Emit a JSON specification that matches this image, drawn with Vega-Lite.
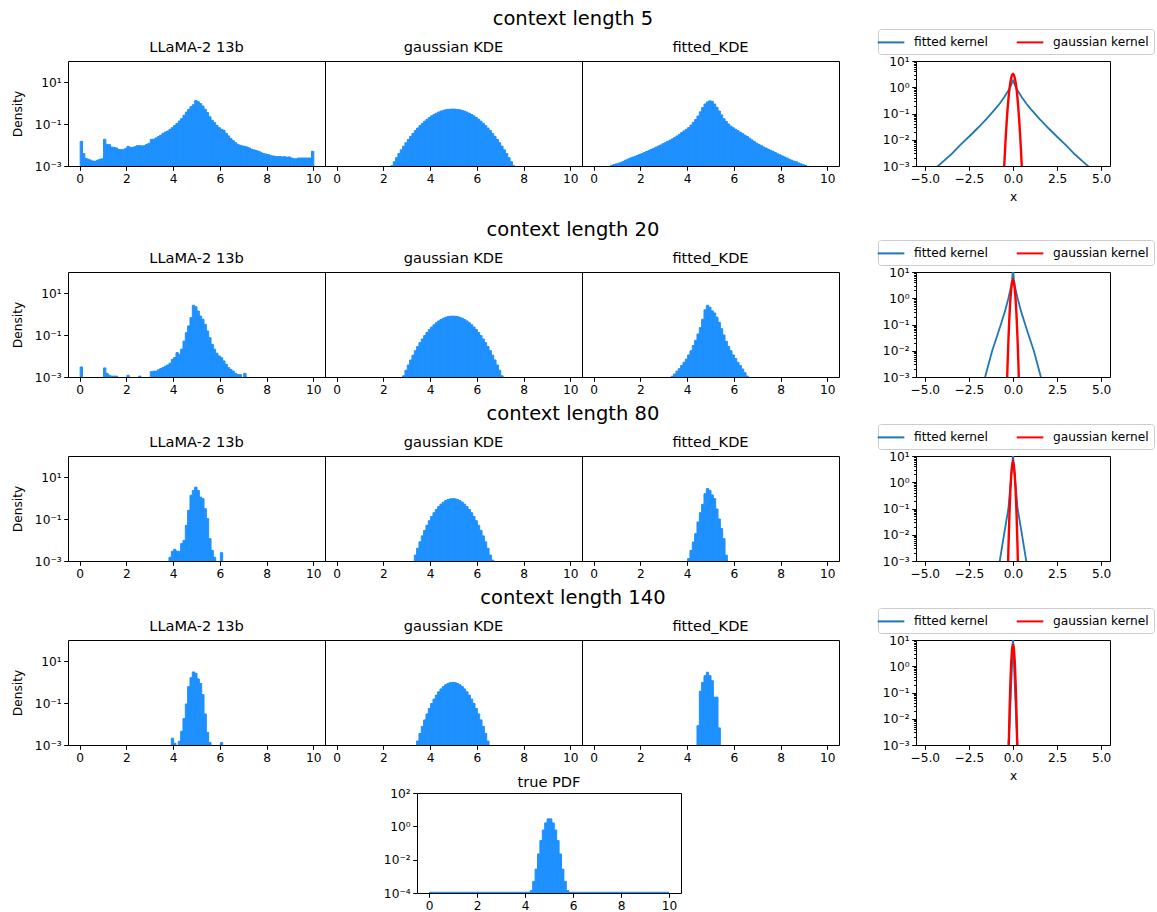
{
"$schema":"https://vega.github.io/schema/vega-lite/v6.json",
"padding":{"left":10,"top":8,"right":0,"bottom":0},
"datasets":{
"r1a":[{"x":0,"d":0.015},{"x":0.1,"d":0.0039},{"x":0.2,"d":0.0023},{"x":0.3,"d":0.0021},{"x":0.4,"d":0.0019},{"x":0.5,"d":0.0017},{"x":0.6,"d":0.0017},{"x":0.7,"d":0.0019},{"x":0.8,"d":0.0021},{"x":0.9,"d":0.0022},{"x":1.0,"d":0.0186},{"x":1.1,"d":0.0107},{"x":1.2,"d":0.0104},{"x":1.3,"d":0.008},{"x":1.4,"d":0.0077},{"x":1.5,"d":0.0072},{"x":1.6,"d":0.0062},{"x":1.7,"d":0.006},{"x":1.8,"d":0.006},{"x":1.9,"d":0.0067},{"x":2.0,"d":0.0086},{"x":2.1,"d":0.0077},{"x":2.2,"d":0.0077},{"x":2.3,"d":0.0083},{"x":2.4,"d":0.0093},{"x":2.5,"d":0.0093},{"x":2.6,"d":0.009},{"x":2.7,"d":0.0093},{"x":2.8,"d":0.0107},{"x":2.9,"d":0.012},{"x":3.0,"d":0.0186},{"x":3.1,"d":0.0186},{"x":3.2,"d":0.0216},{"x":3.3,"d":0.025},{"x":3.4,"d":0.029},{"x":3.5,"d":0.036},{"x":3.6,"d":0.0415},{"x":3.7,"d":0.046},{"x":3.8,"d":0.056},{"x":3.9,"d":0.067},{"x":4.0,"d":0.086},{"x":4.1,"d":0.107},{"x":4.2,"d":0.139},{"x":4.3,"d":0.18},{"x":4.4,"d":0.26},{"x":4.5,"d":0.37},{"x":4.6,"d":0.5},{"x":4.7,"d":0.67},{"x":4.8,"d":0.83},{"x":4.9,"d":1.3},{"x":5.0,"d":1.15},{"x":5.1,"d":0.93},{"x":5.2,"d":0.72},{"x":5.3,"d":0.5},{"x":5.4,"d":0.35},{"x":5.5,"d":0.22},{"x":5.6,"d":0.15},{"x":5.7,"d":0.116},{"x":5.8,"d":0.086},{"x":5.9,"d":0.067},{"x":6.0,"d":0.056},{"x":6.1,"d":0.05},{"x":6.2,"d":0.036},{"x":6.3,"d":0.027},{"x":6.4,"d":0.02},{"x":6.5,"d":0.016},{"x":6.6,"d":0.0129},{"x":6.7,"d":0.0107},{"x":6.8,"d":0.0097},{"x":6.9,"d":0.009},{"x":7.0,"d":0.0086},{"x":7.1,"d":0.008},{"x":7.2,"d":0.0072},{"x":7.3,"d":0.0062},{"x":7.4,"d":0.0058},{"x":7.5,"d":0.0054},{"x":7.6,"d":0.005},{"x":7.7,"d":0.0043},{"x":7.8,"d":0.0039},{"x":7.9,"d":0.0037},{"x":8.0,"d":0.0035},{"x":8.1,"d":0.0032},{"x":8.2,"d":0.003},{"x":8.3,"d":0.0029},{"x":8.4,"d":0.0028},{"x":8.5,"d":0.0028},{"x":8.6,"d":0.0027},{"x":8.7,"d":0.0028},{"x":8.8,"d":0.0026},{"x":8.9,"d":0.0027},{"x":9.0,"d":0.0024},{"x":9.1,"d":0.0022},{"x":9.2,"d":0.0022},{"x":9.3,"d":0.0024},{"x":9.4,"d":0.0024},{"x":9.5,"d":0.0024},{"x":9.6,"d":0.0024},{"x":9.7,"d":0.0024},{"x":9.8,"d":0.0024},{"x":9.9,"d":0.005}],
"r1b":[{"x":2.3,"d":0.00102},{"x":2.4,"d":0.0016},{"x":2.5,"d":0.0025},{"x":2.6,"d":0.0039},{"x":2.7,"d":0.0059},{"x":2.8,"d":0.0088},{"x":2.9,"d":0.0128},{"x":3.0,"d":0.0183},{"x":3.1,"d":0.0258},{"x":3.2,"d":0.0357},{"x":3.3,"d":0.0484},{"x":3.4,"d":0.0643},{"x":3.5,"d":0.0843},{"x":3.6,"d":0.108},{"x":3.7,"d":0.136},{"x":3.8,"d":0.168},{"x":3.9,"d":0.204},{"x":4.0,"d":0.243},{"x":4.1,"d":0.284},{"x":4.2,"d":0.326},{"x":4.3,"d":0.37},{"x":4.4,"d":0.41},{"x":4.5,"d":0.445},{"x":4.6,"d":0.475},{"x":4.7,"d":0.496},{"x":4.8,"d":0.508},{"x":4.9,"d":0.513},{"x":5.0,"d":0.508},{"x":5.1,"d":0.496},{"x":5.2,"d":0.475},{"x":5.3,"d":0.445},{"x":5.4,"d":0.41},{"x":5.5,"d":0.37},{"x":5.6,"d":0.326},{"x":5.7,"d":0.284},{"x":5.8,"d":0.243},{"x":5.9,"d":0.204},{"x":6.0,"d":0.168},{"x":6.1,"d":0.136},{"x":6.2,"d":0.108},{"x":6.3,"d":0.0843},{"x":6.4,"d":0.0643},{"x":6.5,"d":0.0484},{"x":6.6,"d":0.0357},{"x":6.7,"d":0.0258},{"x":6.8,"d":0.0183},{"x":6.9,"d":0.0128},{"x":7.0,"d":0.0088},{"x":7.1,"d":0.0059},{"x":7.2,"d":0.0039},{"x":7.3,"d":0.0025},{"x":7.4,"d":0.0016},{"x":7.5,"d":0.00102}],
"r1c":[{"x":0.7,"d":0.00107},{"x":0.8,"d":0.00117},{"x":0.9,"d":0.00126},{"x":1.0,"d":0.00135},{"x":1.1,"d":0.00148},{"x":1.2,"d":0.00166},{"x":1.3,"d":0.0019},{"x":1.4,"d":0.00214},{"x":1.5,"d":0.0024},{"x":1.6,"d":0.00263},{"x":1.7,"d":0.00288},{"x":1.8,"d":0.00316},{"x":1.9,"d":0.00355},{"x":2.0,"d":0.00389},{"x":2.1,"d":0.00437},{"x":2.2,"d":0.0049},{"x":2.3,"d":0.0055},{"x":2.4,"d":0.00617},{"x":2.5,"d":0.0069},{"x":2.6,"d":0.0079},{"x":2.7,"d":0.0089},{"x":2.8,"d":0.01},{"x":2.9,"d":0.0115},{"x":3.0,"d":0.0129},{"x":3.1,"d":0.0148},{"x":3.2,"d":0.017},{"x":3.3,"d":0.0195},{"x":3.4,"d":0.0229},{"x":3.5,"d":0.0269},{"x":3.6,"d":0.0324},{"x":3.7,"d":0.0389},{"x":3.8,"d":0.0468},{"x":3.9,"d":0.0562},{"x":4.0,"d":0.0676},{"x":4.1,"d":0.089},{"x":4.2,"d":0.12},{"x":4.3,"d":0.166},{"x":4.4,"d":0.24},{"x":4.5,"d":0.38},{"x":4.6,"d":0.6},{"x":4.7,"d":0.89},{"x":4.8,"d":1.12},{"x":4.9,"d":1.26},{"x":5.0,"d":1.2},{"x":5.1,"d":0.89},{"x":5.2,"d":0.63},{"x":5.3,"d":0.417},{"x":5.4,"d":0.27},{"x":5.5,"d":0.178},{"x":5.6,"d":0.132},{"x":5.7,"d":0.1},{"x":5.8,"d":0.079},{"x":5.9,"d":0.066},{"x":6.0,"d":0.0562},{"x":6.1,"d":0.0479},{"x":6.2,"d":0.0407},{"x":6.3,"d":0.0347},{"x":6.4,"d":0.0295},{"x":6.5,"d":0.0251},{"x":6.6,"d":0.0209},{"x":6.7,"d":0.0174},{"x":6.8,"d":0.0145},{"x":6.9,"d":0.0123},{"x":7.0,"d":0.0107},{"x":7.1,"d":0.0093},{"x":7.2,"d":0.0081},{"x":7.3,"d":0.0072},{"x":7.4,"d":0.0063},{"x":7.5,"d":0.0056},{"x":7.6,"d":0.005},{"x":7.7,"d":0.0044},{"x":7.8,"d":0.0038},{"x":7.9,"d":0.0034},{"x":8.0,"d":0.003},{"x":8.1,"d":0.0027},{"x":8.2,"d":0.0024},{"x":8.3,"d":0.0021},{"x":8.4,"d":0.0019},{"x":8.5,"d":0.0017},{"x":8.6,"d":0.0016},{"x":8.7,"d":0.0014},{"x":8.8,"d":0.00126},{"x":8.9,"d":0.00115},{"x":9.0,"d":0.00105}],
"r2a":[{"x":0,"d":0.003},{"x":1.0,"d":0.0027},{"x":1.1,"d":0.0015},{"x":1.2,"d":0.0012},{"x":1.3,"d":0.0011},{"x":1.4,"d":0.0011},{"x":1.5,"d":0.0011},{"x":2.0,"d":0.0012},{"x":2.5,"d":0.0011},{"x":3.0,"d":0.0018},{"x":3.1,"d":0.0019},{"x":3.2,"d":0.0019},{"x":3.3,"d":0.0022},{"x":3.4,"d":0.0025},{"x":3.5,"d":0.0028},{"x":3.6,"d":0.0033},{"x":3.7,"d":0.0037},{"x":3.8,"d":0.0045},{"x":3.9,"d":0.0069},{"x":4.0,"d":0.0085},{"x":4.1,"d":0.0145},{"x":4.2,"d":0.012},{"x":4.3,"d":0.021},{"x":4.4,"d":0.051},{"x":4.5,"d":0.128},{"x":4.6,"d":0.27},{"x":4.7,"d":0.67},{"x":4.8,"d":2.6},{"x":4.9,"d":2.2},{"x":5.0,"d":1.38},{"x":5.1,"d":0.8},{"x":5.2,"d":0.56},{"x":5.3,"d":0.32},{"x":5.4,"d":0.155},{"x":5.5,"d":0.074},{"x":5.6,"d":0.036},{"x":5.7,"d":0.021},{"x":5.8,"d":0.0135},{"x":5.9,"d":0.01},{"x":6.0,"d":0.0083},{"x":6.1,"d":0.0058},{"x":6.2,"d":0.004},{"x":6.3,"d":0.0028},{"x":6.4,"d":0.0023},{"x":6.5,"d":0.0019},{"x":6.6,"d":0.0015},{"x":6.7,"d":0.0013},{"x":6.8,"d":0.0013},{"x":7.0,"d":0.0015}],
"r2b":[{"x":2.8,"d":0.00114},{"x":2.9,"d":0.00209},{"x":3.0,"d":0.00373},{"x":3.1,"d":0.00645},{"x":3.2,"d":0.0109},{"x":3.3,"d":0.0177},{"x":3.4,"d":0.0281},{"x":3.5,"d":0.0433},{"x":3.6,"d":0.0645},{"x":3.7,"d":0.0935},{"x":3.8,"d":0.132},{"x":3.9,"d":0.18},{"x":4.0,"d":0.239},{"x":4.1,"d":0.307},{"x":4.2,"d":0.384},{"x":4.3,"d":0.466},{"x":4.4,"d":0.548},{"x":4.5,"d":0.627},{"x":4.6,"d":0.695},{"x":4.7,"d":0.75},{"x":4.8,"d":0.78},{"x":4.9,"d":0.79},{"x":5.0,"d":0.78},{"x":5.1,"d":0.75},{"x":5.2,"d":0.695},{"x":5.3,"d":0.627},{"x":5.4,"d":0.548},{"x":5.5,"d":0.466},{"x":5.6,"d":0.384},{"x":5.7,"d":0.307},{"x":5.8,"d":0.239},{"x":5.9,"d":0.18},{"x":6.0,"d":0.132},{"x":6.1,"d":0.0935},{"x":6.2,"d":0.0645},{"x":6.3,"d":0.0433},{"x":6.4,"d":0.0281},{"x":6.5,"d":0.0177},{"x":6.6,"d":0.0109},{"x":6.7,"d":0.00645},{"x":6.8,"d":0.00373},{"x":6.9,"d":0.00209},{"x":7.0,"d":0.00114}],
"r2c":[{"x":3.3,"d":0.0011},{"x":3.4,"d":0.0014},{"x":3.5,"d":0.0019},{"x":3.6,"d":0.0025},{"x":3.7,"d":0.0035},{"x":3.8,"d":0.005},{"x":3.9,"d":0.0071},{"x":4.0,"d":0.0112},{"x":4.1,"d":0.0178},{"x":4.2,"d":0.0316},{"x":4.3,"d":0.056},{"x":4.4,"d":0.112},{"x":4.5,"d":0.224},{"x":4.6,"d":0.56},{"x":4.7,"d":1.58},{"x":4.8,"d":2.6},{"x":4.9,"d":2.1},{"x":5.0,"d":1.41},{"x":5.1,"d":1.12},{"x":5.2,"d":0.71},{"x":5.3,"d":0.4},{"x":5.4,"d":0.2},{"x":5.5,"d":0.1},{"x":5.6,"d":0.05},{"x":5.7,"d":0.028},{"x":5.8,"d":0.0178},{"x":5.9,"d":0.0112},{"x":6.0,"d":0.0076},{"x":6.1,"d":0.005},{"x":6.2,"d":0.0035},{"x":6.3,"d":0.0024},{"x":6.4,"d":0.0016},{"x":6.5,"d":0.0011}],
"r3a":[{"x":3.8,"d":0.0015},{"x":3.9,"d":0.0029},{"x":4.0,"d":0.0036},{"x":4.1,"d":0.0029},{"x":4.2,"d":0.0029},{"x":4.3,"d":0.0068},{"x":4.4,"d":0.0096},{"x":4.5,"d":0.05},{"x":4.6,"d":0.26},{"x":4.7,"d":1.35},{"x":4.8,"d":2.3},{"x":4.9,"d":3.3},{"x":5.0,"d":2.3},{"x":5.1,"d":1.1},{"x":5.2,"d":0.93},{"x":5.3,"d":0.31},{"x":5.4,"d":0.104},{"x":5.5,"d":0.0115},{"x":5.6,"d":0.0032},{"x":5.7,"d":0.0015},{"x":6.0,"d":0.0025}],
"r3b":[{"x":3.3,"d":0.00191},{"x":3.4,"d":0.00405},{"x":3.5,"d":0.00816},{"x":3.6,"d":0.0157},{"x":3.7,"d":0.0287},{"x":3.8,"d":0.05},{"x":3.9,"d":0.0832},{"x":4.0,"d":0.132},{"x":4.1,"d":0.199},{"x":4.2,"d":0.285},{"x":4.3,"d":0.391},{"x":4.4,"d":0.51},{"x":4.5,"d":0.634},{"x":4.6,"d":0.751},{"x":4.7,"d":0.847},{"x":4.8,"d":0.91},{"x":4.9,"d":0.93},{"x":5.0,"d":0.91},{"x":5.1,"d":0.847},{"x":5.2,"d":0.751},{"x":5.3,"d":0.634},{"x":5.4,"d":0.51},{"x":5.5,"d":0.391},{"x":5.6,"d":0.285},{"x":5.7,"d":0.199},{"x":5.8,"d":0.132},{"x":5.9,"d":0.0832},{"x":6.0,"d":0.05},{"x":6.1,"d":0.0287},{"x":6.2,"d":0.0157},{"x":6.3,"d":0.00816},{"x":6.4,"d":0.00405},{"x":6.5,"d":0.00191},{"x":6.6,"d":0.0011}],
"r3c":[{"x":4.0,"d":0.0013},{"x":4.1,"d":0.0032},{"x":4.2,"d":0.008},{"x":4.3,"d":0.02},{"x":4.4,"d":0.072},{"x":4.5,"d":0.2},{"x":4.6,"d":0.5},{"x":4.7,"d":1.6},{"x":4.8,"d":2.8},{"x":4.9,"d":2.3},{"x":5.0,"d":1.4},{"x":5.1,"d":0.93},{"x":5.2,"d":0.3},{"x":5.3,"d":0.1},{"x":5.4,"d":0.035},{"x":5.5,"d":0.0115},{"x":5.6,"d":0.0019}],
"r4a":[{"x":3.9,"d":0.0021},{"x":4.0,"d":0.0012},{"x":4.2,"d":0.0015},{"x":4.3,"d":0.0045},{"x":4.4,"d":0.018},{"x":4.5,"d":0.09},{"x":4.6,"d":0.6},{"x":4.7,"d":1.6},{"x":4.8,"d":3.0},{"x":4.9,"d":2.6},{"x":5.0,"d":1.4},{"x":5.1,"d":0.85},{"x":5.2,"d":0.25},{"x":5.3,"d":0.03},{"x":5.4,"d":0.004},{"x":5.5,"d":0.0013},{"x":6.0,"d":0.0013}],
"r4b":[{"x":3.4,"d":0.00155},{"x":3.5,"d":0.00355},{"x":3.6,"d":0.00766},{"x":3.7,"d":0.0156},{"x":3.8,"d":0.0302},{"x":3.9,"d":0.055},{"x":4.0,"d":0.0946},{"x":4.1,"d":0.153},{"x":4.2,"d":0.236},{"x":4.3,"d":0.342},{"x":4.4,"d":0.468},{"x":4.5,"d":0.605},{"x":4.6,"d":0.739},{"x":4.7,"d":0.852},{"x":4.8,"d":0.928},{"x":4.9,"d":0.955},{"x":5.0,"d":0.928},{"x":5.1,"d":0.852},{"x":5.2,"d":0.739},{"x":5.3,"d":0.605},{"x":5.4,"d":0.468},{"x":5.5,"d":0.342},{"x":5.6,"d":0.236},{"x":5.7,"d":0.153},{"x":5.8,"d":0.0946},{"x":5.9,"d":0.055},{"x":6.0,"d":0.0302},{"x":6.1,"d":0.0156},{"x":6.2,"d":0.00766},{"x":6.3,"d":0.00355},{"x":6.4,"d":0.00155}],
"r4c":[{"x":4.4,"d":0.0083},{"x":4.5,"d":0.36},{"x":4.6,"d":0.96},{"x":4.7,"d":2.0},{"x":4.8,"d":2.9},{"x":4.9,"d":2.0},{"x":5.0,"d":1.15},{"x":5.1,"d":0.19},{"x":5.2,"d":0.19},{"x":5.3,"d":0.0065}],
"tp":[{"x":4.2,"d":0.00014},{"x":4.3,"d":0.0005},{"x":4.4,"d":0.0027},{"x":4.5,"d":0.022},{"x":4.6,"d":0.14},{"x":4.7,"d":0.6},{"x":4.8,"d":1.6},{"x":4.9,"d":2.8},{"x":5.0,"d":2.8},{"x":5.1,"d":1.6},{"x":5.2,"d":0.6},{"x":5.3,"d":0.14},{"x":5.4,"d":0.022},{"x":5.5,"d":0.0027},{"x":5.6,"d":0.0005},{"x":5.7,"d":0.00014}],
"tb":[{"x":0,"x2":10,"d":0.000106}],
"k1":[{"s":"fitted kernel","x":-5,"d":0.0004},{"s":"fitted kernel","x":-4.5,"d":0.00071},{"s":"fitted kernel","x":-4,"d":0.0014},{"s":"fitted kernel","x":-3.5,"d":0.0028},{"s":"fitted kernel","x":-3,"d":0.0063},{"s":"fitted kernel","x":-2.5,"d":0.013},{"s":"fitted kernel","x":-2,"d":0.028},{"s":"fitted kernel","x":-1.5,"d":0.063},{"s":"fitted kernel","x":-1,"d":0.15},{"s":"fitted kernel","x":-0.75,"d":0.24},{"s":"fitted kernel","x":-0.5,"d":0.42},{"s":"fitted kernel","x":-0.35,"d":0.6},{"s":"fitted kernel","x":-0.2,"d":0.87},{"s":"fitted kernel","x":-0.1,"d":1.25},{"s":"fitted kernel","x":0,"d":1.8},{"s":"fitted kernel","x":0.1,"d":1.25},{"s":"fitted kernel","x":0.2,"d":0.87},{"s":"fitted kernel","x":0.35,"d":0.6},{"s":"fitted kernel","x":0.5,"d":0.42},{"s":"fitted kernel","x":0.75,"d":0.24},{"s":"fitted kernel","x":1,"d":0.15},{"s":"fitted kernel","x":1.5,"d":0.063},{"s":"fitted kernel","x":2,"d":0.028},{"s":"fitted kernel","x":2.5,"d":0.013},{"s":"fitted kernel","x":3,"d":0.0063},{"s":"fitted kernel","x":3.5,"d":0.0028},{"s":"fitted kernel","x":4,"d":0.0014},{"s":"fitted kernel","x":4.5,"d":0.00071},{"s":"fitted kernel","x":5,"d":0.0004},
{"s":"gaussian kernel","x":-0.55,"d":0.00016},{"s":"gaussian kernel","x":-0.5,"d":0.000906},{"s":"gaussian kernel","x":-0.45,"d":0.00426},{"s":"gaussian kernel","x":-0.4,"d":0.0171},{"s":"gaussian kernel","x":-0.35,"d":0.0585},{"s":"gaussian kernel","x":-0.3,"d":0.169},{"s":"gaussian kernel","x":-0.25,"d":0.416},{"s":"gaussian kernel","x":-0.2,"d":0.864},{"s":"gaussian kernel","x":-0.15,"d":1.53},{"s":"gaussian kernel","x":-0.1,"d":2.31},{"s":"gaussian kernel","x":-0.05,"d":2.95},{"s":"gaussian kernel","x":0,"d":3.2},{"s":"gaussian kernel","x":0.05,"d":2.95},{"s":"gaussian kernel","x":0.1,"d":2.31},{"s":"gaussian kernel","x":0.15,"d":1.53},{"s":"gaussian kernel","x":0.2,"d":0.864},{"s":"gaussian kernel","x":0.25,"d":0.416},{"s":"gaussian kernel","x":0.3,"d":0.169},{"s":"gaussian kernel","x":0.35,"d":0.0585},{"s":"gaussian kernel","x":0.4,"d":0.0171},{"s":"gaussian kernel","x":0.45,"d":0.00426},{"s":"gaussian kernel","x":0.5,"d":0.000906},{"s":"gaussian kernel","x":0.55,"d":0.00016}],
"k2":[{"s":"fitted kernel","x":-2.2,"d":0.00003},{"s":"fitted kernel","x":-1.8,"d":0.0003},{"s":"fitted kernel","x":-1.58,"d":0.001},{"s":"fitted kernel","x":-1.38,"d":0.0032},{"s":"fitted kernel","x":-1.18,"d":0.01},{"s":"fitted kernel","x":-0.93,"d":0.032},{"s":"fitted kernel","x":-0.69,"d":0.1},{"s":"fitted kernel","x":-0.45,"d":0.33},{"s":"fitted kernel","x":-0.26,"d":1.0},{"s":"fitted kernel","x":-0.1,"d":3.0},{"s":"fitted kernel","x":-0.05,"d":5},{"s":"fitted kernel","x":0,"d":15},{"s":"fitted kernel","x":0.05,"d":5},{"s":"fitted kernel","x":0.1,"d":3.0},{"s":"fitted kernel","x":0.26,"d":1.0},{"s":"fitted kernel","x":0.45,"d":0.33},{"s":"fitted kernel","x":0.69,"d":0.1},{"s":"fitted kernel","x":0.93,"d":0.032},{"s":"fitted kernel","x":1.18,"d":0.01},{"s":"fitted kernel","x":1.38,"d":0.0032},{"s":"fitted kernel","x":1.58,"d":0.001},{"s":"fitted kernel","x":1.8,"d":0.0003},{"s":"fitted kernel","x":2.2,"d":0.00003},
{"s":"gaussian kernel","x":-0.4,"d":0.000019},{"s":"gaussian kernel","x":-0.35,"d":0.000342},{"s":"gaussian kernel","x":-0.3,"d":0.00437},{"s":"gaussian kernel","x":-0.25,"d":0.0375},{"s":"gaussian kernel","x":-0.2,"d":0.218},{"s":"gaussian kernel","x":-0.15,"d":0.86},{"s":"gaussian kernel","x":-0.1,"d":2.28},{"s":"gaussian kernel","x":-0.05,"d":4.1},{"s":"gaussian kernel","x":0,"d":4.99},{"s":"gaussian kernel","x":0.05,"d":4.1},{"s":"gaussian kernel","x":0.1,"d":2.28},{"s":"gaussian kernel","x":0.15,"d":0.86},{"s":"gaussian kernel","x":0.2,"d":0.218},{"s":"gaussian kernel","x":0.25,"d":0.0375},{"s":"gaussian kernel","x":0.3,"d":0.00437},{"s":"gaussian kernel","x":0.35,"d":0.000342},{"s":"gaussian kernel","x":0.4,"d":0.000019}],
"k3":[{"s":"fitted kernel","x":-1.0,"d":0.0001},{"s":"fitted kernel","x":-0.75,"d":0.001},{"s":"fitted kernel","x":-0.51,"d":0.01},{"s":"fitted kernel","x":-0.26,"d":0.1},{"s":"fitted kernel","x":-0.13,"d":1.0},{"s":"fitted kernel","x":-0.05,"d":4},{"s":"fitted kernel","x":0,"d":12},{"s":"fitted kernel","x":0.05,"d":4},{"s":"fitted kernel","x":0.13,"d":1.0},{"s":"fitted kernel","x":0.26,"d":0.1},{"s":"fitted kernel","x":0.51,"d":0.01},{"s":"fitted kernel","x":0.75,"d":0.001},{"s":"fitted kernel","x":1.0,"d":0.0001},
{"s":"gaussian kernel","x":-0.35,"d":0.000005},{"s":"gaussian kernel","x":-0.3,"d":0.00023},{"s":"gaussian kernel","x":-0.25,"d":0.0051},{"s":"gaussian kernel","x":-0.2,"d":0.065},{"s":"gaussian kernel","x":-0.15,"d":0.47},{"s":"gaussian kernel","x":-0.1,"d":1.94},{"s":"gaussian kernel","x":-0.05,"d":4.5},{"s":"gaussian kernel","x":0,"d":6.0},{"s":"gaussian kernel","x":0.05,"d":4.5},{"s":"gaussian kernel","x":0.1,"d":1.94},{"s":"gaussian kernel","x":0.15,"d":0.47},{"s":"gaussian kernel","x":0.2,"d":0.065},{"s":"gaussian kernel","x":0.25,"d":0.0051},{"s":"gaussian kernel","x":0.3,"d":0.00023},{"s":"gaussian kernel","x":0.35,"d":0.000005}],
"k4":[{"s":"fitted kernel","x":-0.4,"d":0.00002},{"s":"fitted kernel","x":-0.3,"d":0.0003},{"s":"fitted kernel","x":-0.25,"d":0.0012},{"s":"fitted kernel","x":-0.2,"d":0.005},{"s":"fitted kernel","x":-0.1,"d":0.2},{"s":"fitted kernel","x":-0.05,"d":1.5},{"s":"fitted kernel","x":0,"d":15},{"s":"fitted kernel","x":0.05,"d":1.5},{"s":"fitted kernel","x":0.1,"d":0.2},{"s":"fitted kernel","x":0.2,"d":0.005},{"s":"fitted kernel","x":0.25,"d":0.0012},{"s":"fitted kernel","x":0.3,"d":0.0003},{"s":"fitted kernel","x":0.4,"d":0.00002},
{"s":"gaussian kernel","x":-0.3,"d":0.00001},{"s":"gaussian kernel","x":-0.25,"d":0.00047},{"s":"gaussian kernel","x":-0.2,"d":0.0149},{"s":"gaussian kernel","x":-0.15,"d":0.22},{"s":"gaussian kernel","x":-0.1,"d":1.5},{"s":"gaussian kernel","x":-0.05,"d":4.76},{"s":"gaussian kernel","x":0,"d":7},{"s":"gaussian kernel","x":0.05,"d":4.76},{"s":"gaussian kernel","x":0.1,"d":1.5},{"s":"gaussian kernel","x":0.15,"d":0.22},{"s":"gaussian kernel","x":0.2,"d":0.0149},{"s":"gaussian kernel","x":0.25,"d":0.00047},{"s":"gaussian kernel","x":0.3,"d":0.00001}]
},
"spacing":6,
"resolve":{"scale":{"color":"independent"}},
"vconcat":[
{"title":{"text":"context length 5","fontSize":19.5,"offset":-1,"dx":-10},"spacing":37,"resolve":{"scale":{"color":"independent"}},
"hconcat":[
{"spacing":0,"bounds":"flush","hconcat":[
{"width":257,"height":105,"data":{"name":"r1a"},"title":"LLaMA-2 13b","mark":{"type":"bar","color":"#1e90ff","stroke":"#1e90ff","strokeWidth":1,"binSpacing":0,"clip":true},"encoding":{"x":{"field":"x","type":"quantitative","bin":{"binned":true,"step":0.1},"scale":{"domain":[-0.5,10.5],"nice":false,"zero":false},"axis":{"values":[0,2,4,6,8,10],"format":"d","title":null}},"y":{"field":"d","type":"quantitative","stack":null,"scale":{"type":"log","domain":[0.001,100],"nice":false},"axis":{"values":[0.001,0.1,10],"labelExpr":"datum.value<0.01?'10⁻³':datum.value<1?'10⁻¹':'10¹'","title":"Density","titlePadding":10}}}},
{"width":257,"height":105,"data":{"name":"r1b"},"title":"gaussian KDE","mark":{"type":"bar","color":"#1e90ff","stroke":"#1e90ff","strokeWidth":1,"binSpacing":0,"clip":true},"encoding":{"x":{"field":"x","type":"quantitative","bin":{"binned":true,"step":0.1},"scale":{"domain":[-0.5,10.5],"nice":false,"zero":false},"axis":{"values":[0,2,4,6,8,10],"format":"d","title":null}},"y":{"field":"d","type":"quantitative","stack":null,"scale":{"type":"log","domain":[0.001,100],"nice":false},"axis":null}}},
{"width":257,"height":105,"data":{"name":"r1c"},"title":"fitted_KDE","mark":{"type":"bar","color":"#1e90ff","stroke":"#1e90ff","strokeWidth":1,"binSpacing":0,"clip":true},"encoding":{"x":{"field":"x","type":"quantitative","bin":{"binned":true,"step":0.1},"scale":{"domain":[-0.5,10.5],"nice":false,"zero":false},"axis":{"values":[0,2,4,6,8,10],"format":"d","title":null}},"y":{"field":"d","type":"quantitative","stack":null,"scale":{"type":"log","domain":[0.001,100],"nice":false},"axis":null}}}
]},
{"width":194,"height":105,"data":{"name":"k1"},
"encoding":{"x":{"field":"x","type":"quantitative","scale":{"domain":[-5.5,5.5],"nice":false,"zero":false},"axis":{"values":[-5,-2.5,0,2.5,5],"format":".1f","title":["x"," "],"titlePadding":5,"titleLineHeight":10}},"y":{"field":"d","type":"quantitative","scale":{"type":"log","domain":[0.001,10],"nice":false},"axis":{"title":null,"values":[0.001,0.002,0.003,0.004,0.005,0.006,0.007,0.008,0.009,0.01,0.02,0.03,0.04,0.05,0.06,0.07,0.08,0.09,0.1,0.2,0.3,0.4,0.5,0.6,0.7,0.8,0.9,1,2,3,4,5,6,7,8,9,10],"labelExpr":"datum.value==10?'10¹':datum.value==1?'10⁰':datum.value==0.1?'10⁻¹':datum.value==0.01?'10⁻²':datum.value==0.001?'10⁻³':''","tickSize":{"condition":{"test":"datum.value==10||datum.value==1||datum.value==0.1||datum.value==0.01||datum.value==0.001","value":4.3},"value":2.4}}},"color":{"field":"s","type":"nominal","scale":{"domain":["fitted kernel","gaussian kernel"],"range":["#1f77b4","#ff0000"]},"legend":{"title":null,"orient":"none","legendX":-38,"legendY":-32,"direction":"horizontal"}}},
"layer":[{"transform":[{"filter":"datum.s=='fitted kernel'"}],"mark":{"type":"line","strokeWidth":1.8,"clip":true},"encoding":{}},{"transform":[{"filter":"datum.s=='gaussian kernel'"}],"mark":{"type":"line","strokeWidth":2.4,"clip":true},"encoding":{}}]}
]},
{"title":{"text":"context length 20","fontSize":19.5,"offset":-1,"dx":-10},"spacing":37,"resolve":{"scale":{"color":"independent"}},
"hconcat":[
{"spacing":0,"bounds":"flush","hconcat":[
{"width":257,"height":105,"data":{"name":"r2a"},"title":"LLaMA-2 13b","mark":{"type":"bar","color":"#1e90ff","stroke":"#1e90ff","strokeWidth":1,"binSpacing":0,"clip":true},"encoding":{"x":{"field":"x","type":"quantitative","bin":{"binned":true,"step":0.1},"scale":{"domain":[-0.5,10.5],"nice":false,"zero":false},"axis":{"values":[0,2,4,6,8,10],"format":"d","title":null}},"y":{"field":"d","type":"quantitative","stack":null,"scale":{"type":"log","domain":[0.001,100],"nice":false},"axis":{"values":[0.001,0.1,10],"labelExpr":"datum.value<0.01?'10⁻³':datum.value<1?'10⁻¹':'10¹'","title":"Density","titlePadding":10}}}},
{"width":257,"height":105,"data":{"name":"r2b"},"title":"gaussian KDE","mark":{"type":"bar","color":"#1e90ff","stroke":"#1e90ff","strokeWidth":1,"binSpacing":0,"clip":true},"encoding":{"x":{"field":"x","type":"quantitative","bin":{"binned":true,"step":0.1},"scale":{"domain":[-0.5,10.5],"nice":false,"zero":false},"axis":{"values":[0,2,4,6,8,10],"format":"d","title":null}},"y":{"field":"d","type":"quantitative","stack":null,"scale":{"type":"log","domain":[0.001,100],"nice":false},"axis":null}}},
{"width":257,"height":105,"data":{"name":"r2c"},"title":"fitted_KDE","mark":{"type":"bar","color":"#1e90ff","stroke":"#1e90ff","strokeWidth":1,"binSpacing":0,"clip":true},"encoding":{"x":{"field":"x","type":"quantitative","bin":{"binned":true,"step":0.1},"scale":{"domain":[-0.5,10.5],"nice":false,"zero":false},"axis":{"values":[0,2,4,6,8,10],"format":"d","title":null}},"y":{"field":"d","type":"quantitative","stack":null,"scale":{"type":"log","domain":[0.001,100],"nice":false},"axis":null}}}
]},
{"width":194,"height":105,"data":{"name":"k2"},
"encoding":{"x":{"field":"x","type":"quantitative","scale":{"domain":[-5.5,5.5],"nice":false,"zero":false},"axis":{"values":[-5,-2.5,0,2.5,5],"format":".1f","title":null}},"y":{"field":"d","type":"quantitative","scale":{"type":"log","domain":[0.001,10],"nice":false},"axis":{"title":null,"values":[0.001,0.002,0.003,0.004,0.005,0.006,0.007,0.008,0.009,0.01,0.02,0.03,0.04,0.05,0.06,0.07,0.08,0.09,0.1,0.2,0.3,0.4,0.5,0.6,0.7,0.8,0.9,1,2,3,4,5,6,7,8,9,10],"labelExpr":"datum.value==10?'10¹':datum.value==1?'10⁰':datum.value==0.1?'10⁻¹':datum.value==0.01?'10⁻²':datum.value==0.001?'10⁻³':''","tickSize":{"condition":{"test":"datum.value==10||datum.value==1||datum.value==0.1||datum.value==0.01||datum.value==0.001","value":4.3},"value":2.4}}},"color":{"field":"s","type":"nominal","scale":{"domain":["fitted kernel","gaussian kernel"],"range":["#1f77b4","#ff0000"]},"legend":{"title":null,"orient":"none","legendX":-38,"legendY":-32,"direction":"horizontal"}}},
"layer":[{"transform":[{"filter":"datum.s=='fitted kernel'"}],"mark":{"type":"line","strokeWidth":1.8,"clip":true},"encoding":{}},{"transform":[{"filter":"datum.s=='gaussian kernel'"}],"mark":{"type":"line","strokeWidth":2.4,"clip":true},"encoding":{}}]}
]},
{"title":{"text":"context length 80","fontSize":19.5,"offset":-1,"dx":-10},"spacing":37,"resolve":{"scale":{"color":"independent"}},
"hconcat":[
{"spacing":0,"bounds":"flush","hconcat":[
{"width":257,"height":105,"data":{"name":"r3a"},"title":"LLaMA-2 13b","mark":{"type":"bar","color":"#1e90ff","stroke":"#1e90ff","strokeWidth":1,"binSpacing":0,"clip":true},"encoding":{"x":{"field":"x","type":"quantitative","bin":{"binned":true,"step":0.1},"scale":{"domain":[-0.5,10.5],"nice":false,"zero":false},"axis":{"values":[0,2,4,6,8,10],"format":"d","title":null}},"y":{"field":"d","type":"quantitative","stack":null,"scale":{"type":"log","domain":[0.001,100],"nice":false},"axis":{"values":[0.001,0.1,10],"labelExpr":"datum.value<0.01?'10⁻³':datum.value<1?'10⁻¹':'10¹'","title":"Density","titlePadding":10}}}},
{"width":257,"height":105,"data":{"name":"r3b"},"title":"gaussian KDE","mark":{"type":"bar","color":"#1e90ff","stroke":"#1e90ff","strokeWidth":1,"binSpacing":0,"clip":true},"encoding":{"x":{"field":"x","type":"quantitative","bin":{"binned":true,"step":0.1},"scale":{"domain":[-0.5,10.5],"nice":false,"zero":false},"axis":{"values":[0,2,4,6,8,10],"format":"d","title":null}},"y":{"field":"d","type":"quantitative","stack":null,"scale":{"type":"log","domain":[0.001,100],"nice":false},"axis":null}}},
{"width":257,"height":105,"data":{"name":"r3c"},"title":"fitted_KDE","mark":{"type":"bar","color":"#1e90ff","stroke":"#1e90ff","strokeWidth":1,"binSpacing":0,"clip":true},"encoding":{"x":{"field":"x","type":"quantitative","bin":{"binned":true,"step":0.1},"scale":{"domain":[-0.5,10.5],"nice":false,"zero":false},"axis":{"values":[0,2,4,6,8,10],"format":"d","title":null}},"y":{"field":"d","type":"quantitative","stack":null,"scale":{"type":"log","domain":[0.001,100],"nice":false},"axis":null}}}
]},
{"width":194,"height":105,"data":{"name":"k3"},
"encoding":{"x":{"field":"x","type":"quantitative","scale":{"domain":[-5.5,5.5],"nice":false,"zero":false},"axis":{"values":[-5,-2.5,0,2.5,5],"format":".1f","title":null}},"y":{"field":"d","type":"quantitative","scale":{"type":"log","domain":[0.001,10],"nice":false},"axis":{"title":null,"values":[0.001,0.002,0.003,0.004,0.005,0.006,0.007,0.008,0.009,0.01,0.02,0.03,0.04,0.05,0.06,0.07,0.08,0.09,0.1,0.2,0.3,0.4,0.5,0.6,0.7,0.8,0.9,1,2,3,4,5,6,7,8,9,10],"labelExpr":"datum.value==10?'10¹':datum.value==1?'10⁰':datum.value==0.1?'10⁻¹':datum.value==0.01?'10⁻²':datum.value==0.001?'10⁻³':''","tickSize":{"condition":{"test":"datum.value==10||datum.value==1||datum.value==0.1||datum.value==0.01||datum.value==0.001","value":4.3},"value":2.4}}},"color":{"field":"s","type":"nominal","scale":{"domain":["fitted kernel","gaussian kernel"],"range":["#1f77b4","#ff0000"]},"legend":{"title":null,"orient":"none","legendX":-38,"legendY":-32,"direction":"horizontal"}}},
"layer":[{"transform":[{"filter":"datum.s=='fitted kernel'"}],"mark":{"type":"line","strokeWidth":1.8,"clip":true},"encoding":{}},{"transform":[{"filter":"datum.s=='gaussian kernel'"}],"mark":{"type":"line","strokeWidth":2.4,"clip":true},"encoding":{}}]}
]},
{"title":{"text":"context length 140","fontSize":19.5,"offset":-1,"dx":-10},"spacing":37,"resolve":{"scale":{"color":"independent"}},
"hconcat":[
{"spacing":9,"vconcat":[
{"spacing":0,"bounds":"flush","hconcat":[
{"width":257,"height":105,"data":{"name":"r4a"},"title":"LLaMA-2 13b","mark":{"type":"bar","color":"#1e90ff","stroke":"#1e90ff","strokeWidth":1,"binSpacing":0,"clip":true},"encoding":{"x":{"field":"x","type":"quantitative","bin":{"binned":true,"step":0.1},"scale":{"domain":[-0.5,10.5],"nice":false,"zero":false},"axis":{"values":[0,2,4,6,8,10],"format":"d","title":null}},"y":{"field":"d","type":"quantitative","stack":null,"scale":{"type":"log","domain":[0.001,100],"nice":false},"axis":{"values":[0.001,0.1,10],"labelExpr":"datum.value<0.01?'10⁻³':datum.value<1?'10⁻¹':'10¹'","title":"Density","titlePadding":10}}}},
{"width":257,"height":105,"data":{"name":"r4b"},"title":"gaussian KDE","mark":{"type":"bar","color":"#1e90ff","stroke":"#1e90ff","strokeWidth":1,"binSpacing":0,"clip":true},"encoding":{"x":{"field":"x","type":"quantitative","bin":{"binned":true,"step":0.1},"scale":{"domain":[-0.5,10.5],"nice":false,"zero":false},"axis":{"values":[0,2,4,6,8,10],"format":"d","title":null}},"y":{"field":"d","type":"quantitative","stack":null,"scale":{"type":"log","domain":[0.001,100],"nice":false},"axis":null}}},
{"width":257,"height":105,"data":{"name":"r4c"},"title":"fitted_KDE","mark":{"type":"bar","color":"#1e90ff","stroke":"#1e90ff","strokeWidth":1,"binSpacing":0,"clip":true},"encoding":{"x":{"field":"x","type":"quantitative","bin":{"binned":true,"step":0.1},"scale":{"domain":[-0.5,10.5],"nice":false,"zero":false},"axis":{"values":[0,2,4,6,8,10],"format":"d","title":null}},"y":{"field":"d","type":"quantitative","stack":null,"scale":{"type":"log","domain":[0.001,100],"nice":false},"axis":null}}}
]},
{"spacing":0,"hconcat":[
{"width":314,"height":100,"data":{"values":[]},"mark":{"type":"point","opacity":0},"encoding":{},"view":{"stroke":null}},
{"width":264,"height":100,"title":{"text":"true PDF","offset":-3},"layer":[
{"data":{"name":"tb"},"mark":{"type":"rule","color":"#1e90ff","strokeWidth":1.5,"clip":true},"encoding":{"x":{"field":"x","type":"quantitative","scale":{"domain":[-0.5,10.5],"nice":false,"zero":false},"axis":{"values":[0,2,4,6,8,10],"format":"d","title":null}},"x2":{"field":"x2"},"y":{"field":"d","type":"quantitative","scale":{"type":"log","domain":[0.0001,100],"nice":false},"axis":{"values":[0.0001,0.01,1,100],"labelExpr":"datum.value<0.001?'10⁻⁴':datum.value<0.1?'10⁻²':datum.value<10?'10⁰':'10²'","title":null}}}},
{"data":{"name":"tp"},"mark":{"type":"bar","color":"#1e90ff","stroke":"#1e90ff","strokeWidth":1,"binSpacing":0,"clip":true},"encoding":{"x":{"field":"x","type":"quantitative","bin":{"binned":true,"step":0.1}},"y":{"field":"d","type":"quantitative","stack":null}}}
]}
]}
]},
{"width":194,"height":105,"data":{"name":"k4"},
"encoding":{"x":{"field":"x","type":"quantitative","scale":{"domain":[-5.5,5.5],"nice":false,"zero":false},"axis":{"values":[-5,-2.5,0,2.5,5],"format":".1f","title":"x","titlePadding":5}},"y":{"field":"d","type":"quantitative","scale":{"type":"log","domain":[0.001,10],"nice":false},"axis":{"title":null,"values":[0.001,0.002,0.003,0.004,0.005,0.006,0.007,0.008,0.009,0.01,0.02,0.03,0.04,0.05,0.06,0.07,0.08,0.09,0.1,0.2,0.3,0.4,0.5,0.6,0.7,0.8,0.9,1,2,3,4,5,6,7,8,9,10],"labelExpr":"datum.value==10?'10¹':datum.value==1?'10⁰':datum.value==0.1?'10⁻¹':datum.value==0.01?'10⁻²':datum.value==0.001?'10⁻³':''","tickSize":{"condition":{"test":"datum.value==10||datum.value==1||datum.value==0.1||datum.value==0.01||datum.value==0.001","value":4.3},"value":2.4}}},"color":{"field":"s","type":"nominal","scale":{"domain":["fitted kernel","gaussian kernel"],"range":["#1f77b4","#ff0000"]},"legend":{"title":null,"orient":"none","legendX":-38,"legendY":-32,"direction":"horizontal"}}},
"layer":[{"transform":[{"filter":"datum.s=='fitted kernel'"}],"mark":{"type":"line","strokeWidth":1.8,"clip":true},"encoding":{}},{"transform":[{"filter":"datum.s=='gaussian kernel'"}],"mark":{"type":"line","strokeWidth":2.4,"clip":true},"encoding":{}}]}
]}
],
"config":{
"font":"DejaVu Sans",
"view":{"stroke":"black","strokeWidth":1},
"axis":{"domain":false,"grid":false,"labelFont":"DejaVu Sans","labelFontSize":12.2,"labelColor":"black","tickColor":"black","tickSize":4.3,"tickWidth":1,"labelPadding":2.5,"titleFont":"DejaVu Sans","titleFontSize":12.2,"titleFontWeight":"normal","titleColor":"black","labelFlush":false,"labelOverlap":false},
"title":{"font":"DejaVu Sans","fontSize":14.6,"fontWeight":"normal","color":"black","anchor":"middle","offset":6},
"legend":{"strokeColor":"#cccccc","fillColor":"#ffffff","cornerRadius":3,"padding":5,"symbolType":"M-1.9,0H1.9","symbolSize":196,"symbolStrokeWidth":2,"labelFont":"DejaVu Sans","labelFontSize":12.2,"labelColor":"black","labelOffset":15,"columnPadding":24}
}
}
